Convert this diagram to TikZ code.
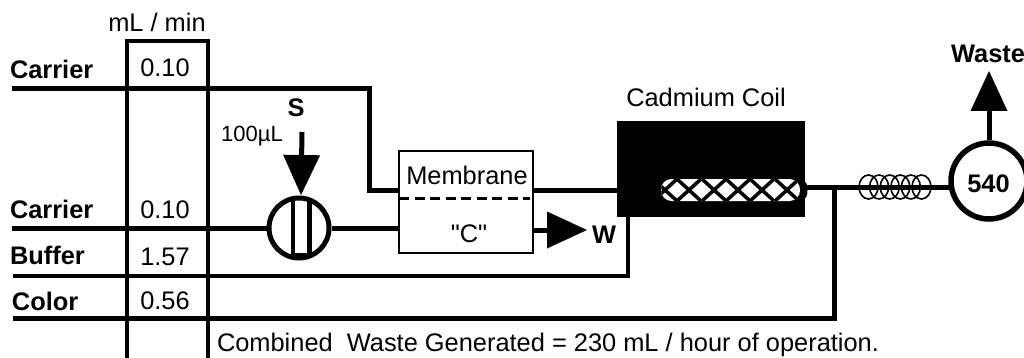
\documentclass[tikz,border=0pt]{standalone}
\usepackage{fontspec}
\setmainfont{Liberation Sans}
\newfontfamily\plainf{Liberation Sans}
\usetikzlibrary{arrows.meta}
\tikzset{
  lbl/.style={inner sep=0pt,outer sep=0pt,anchor=base,font=\fontsize{25.4}{25.4}\selectfont},
  blbl/.style={lbl,font=\fontsize{25.4}{25.4}\selectfont\bfseries},
  flow/.style={line width=5pt,line join=miter},
  arrowline/.style={line width=5pt,-{Triangle[length=40pt,width=37pt,line width=0pt]}},
}
\begin{document}
\begin{tikzpicture}[x=1pt,y=-1pt]
\useasboundingbox[clip] (0,0) rectangle (1024,358);
% column
\coordinate (colA) at (127,358);\coordinate (colB) at (127,41);\coordinate (colC) at (208,41);\coordinate (colD) at (208,358);
\draw[line width=4.5pt] (colA)--(colB)--(colC)--(colD);
% free ends
\coordinate (c1) at (12,89);
\coordinate (c1k) at (369,89);
\coordinate (c2) at (12,228);
\coordinate (buf) at (13,276);
\coordinate (col) at (13,318);
\coordinate (sTop) at (302,132);
% nodes
\node[draw,line width=2pt,minimum width=134pt,minimum height=102pt,inner sep=0pt] (mem) at (466,202) {};
\node[circle,draw,line width=5pt,minimum size=60pt,inner sep=0pt] (pump) at (299,228) {};
\node[fill=black,minimum width=188pt,minimum height=96pt,inner sep=0pt] (cad) at (711,169) {};
\node[circle,draw,line width=5.5pt,minimum size=76pt,inner sep=0pt] (det) at (989,181) {};
\coordinate (wasteTip) at (989,71);
\coordinate (wOut) at (533,230);
\coordinate (wTip) at (587,230);
\coordinate (memIn) at (399,190);
\coordinate (memOut) at (533,190);
\coordinate (cadIn) at (617,190);
\coordinate (cadOut) at (805,187);
\coordinate (detIn) at (950,187);
\coordinate (bufUp) at (628,217);
\coordinate (colJ) at (834,187);
\coordinate (memC) at (399,228);
% connectors
\draw[flow] (c1)--(c1k)--(c1k|-memIn)--(memIn);
\draw[flow] (memOut)--(cadIn);
\draw[flow] (c2)--(pump.west|-c2);
\draw[flow] (pump.east|-c2)--(memC);
\draw[line width=4.5pt] (buf)-|(bufUp);
\draw[flow] (col)-|(colJ);
\draw[flow] (cadOut)--(detIn);
\draw[arrowline] (sTop)--(301,195);
\draw[arrowline] (wOut)--(wTip);
\draw[arrowline] (det.north)--(wasteTip);
\draw[line width=3pt,dash pattern=on 10pt off 5.5pt] (399,198)--(530,198);
% pump interior
\draw[line width=3.5pt] (293,201)--(293,255);
\draw[line width=4.5pt] (309.5,201)--(309.5,255);
\draw[line width=4.5pt] (291,255)--(312,255);
% cadmium coil interior
\begin{scope}
\fill[black] (805,182) arc (-90:90:2.5 and 8)--cycle;
\fill[white,rounded corners=10.5pt] (661,179) rectangle (800,201);
\clip[rounded corners=10.5pt] (661,179) rectangle (800,201);
\foreach \x in {665,689,714,738,762,787}{
  \draw[line width=3.5pt] (\x-12,179)--(\x+12,201);
  \draw[line width=3.5pt] (\x-12,201)--(\x+12,179);
}
\end{scope}
% small coil
\foreach \x in {868.5,879.1,889.7,900.3,910.9,921.5}{
  \draw[line width=1.6pt] (\x,187) ellipse (9.5 and 12);
}
% texts
\node[lbl] (unit) at (157,32) {mL / min};
\node[blbl,anchor=base west] (t1) at (10,79) {Carrier};
\node[blbl,anchor=base west] (t2) at (10,218) {Carrier};
\node[blbl,anchor=base west] (t3) at (10,264) {Buffer};
\node[blbl,anchor=base west] (t4) at (12,310) {Color};
\node[lbl] (v1) at (165,77) {0.10};
\node[lbl] (v2) at (165,218) {0.10};
\node[lbl] (v3) at (165,265) {1.57};
\node[lbl] (v4) at (165,309) {0.56};
\node[blbl] (s) at (296,117) {S};
\node[lbl,font=\fontsize{22}{22}\selectfont] (vol) at (252,142) {100µL};
\node[lbl] (tm) at (467,184) {Membrane};
\node[lbl] (tc) at (469,242) {\plainf "C"};
\node[blbl] (tw) at (604,243) {W};
\node[lbl] (tcad) at (706,107) {Cadmium Coil};
\node[blbl,anchor=base east] (tw2) at (1025,63) {Waste};
\node[blbl] (t540) at (988.5,193) {540};
\node[lbl,anchor=base west] (tcomb) at (217,351) {Combined\ \ Waste Generated = 230 mL / hour of operation.};
\end{tikzpicture}
\end{document}
